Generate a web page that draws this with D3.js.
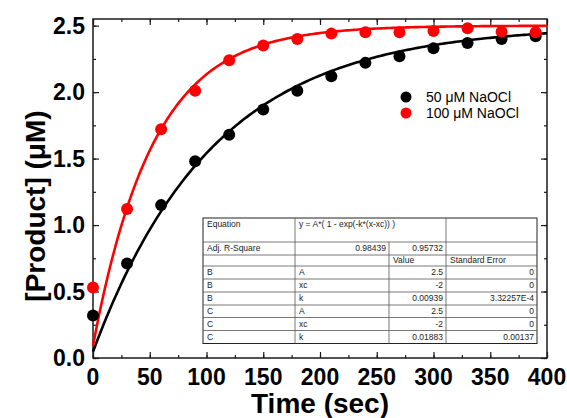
<!DOCTYPE html>
<html>
<head>
<meta charset="utf-8">
<script src="https://cdn.jsdelivr.net/npm/d3@7"></script>
<style>
  html, body { margin: 0; padding: 0; background: #fff; }
  svg { display: block; }
</style>
</head>
<body>
<svg id="chart" width="567" height="418"></svg>
<script>
// Sampling times (sec)
const times = [0, 30, 60, 90, 120, 150, 180, 210, 240, 270, 300, 330, 360, 390];
// Product concentration (µM) for each NaOCl dose
const product50 = [0.32, 0.71, 1.15, 1.48, 1.68, 1.87, 2.01, 2.12, 2.22, 2.27, 2.33, 2.37, 2.40, 2.42];
const product100 = [0.53, 1.12, 1.72, 2.01, 2.24, 2.35, 2.40, 2.44, 2.45, 2.45, 2.46, 2.48, 2.455, 2.45];
const seriesNames = ["50 \u03bcM NaOCl", "100 \u03bcM NaOCl"];
const seriesColors = ["#000000", "#ff0000"];

// Exponential rise fits y = A*(1 - exp(-k*(x-xc))) for datasets B and C
const fitIds = ["B", "C"];
const fitA = [2.5, 2.5];
const fitXc = [-2, -2];
const fitK = [0.00939, 0.01883];
const fitKErr = ["3.32257E-4", "0.00137"];
const adjR2 = ["0.98439", "0.95732"];
const equationText = "y = A*( 1 - exp(-k*(x-xc)) )";

const xTicks = [0, 50, 100, 150, 200, 250, 300, 350, 400];
const yTicks = [0.0, 0.5, 1.0, 1.5, 2.0, 2.5];

const W = 567, H = 418;
const margin = { left: 93, right: 20, top: 19, bottom: 60 };
const svg = d3.select("#chart");

const x = d3.scaleLinear().domain([0, 400]).range([margin.left, W - margin.right]);
const y = d3.scaleLinear().domain([0, 2.55]).range([H - margin.bottom, margin.top]);

const axisColor = "#1a1a1a";
const boldFont = "'Liberation Sans', Arial, sans-serif";

// Frame axes: ticks pointing inward on all four sides
function styleAxis(g) {
  g.select(".domain").remove();
  g.selectAll("line").attr("stroke", axisColor).attr("stroke-width", 1.2);
}
const xMinor = d3.range(0, 401, 25);
const yMinor = d3.range(0, 2.51, 0.25);

// bottom
svg.append("g").attr("transform", `translate(0,${y(0)})`)
  .call(d3.axisTop(x).tickValues(xMinor).tickSize(3).tickFormat(""))
  .call(styleAxis);
svg.append("g").attr("transform", `translate(0,${y(0)})`)
  .call(d3.axisTop(x).tickValues(xTicks).tickSize(6).tickFormat(""))
  .call(styleAxis);
// top
svg.append("g").attr("transform", `translate(0,${margin.top})`)
  .call(d3.axisBottom(x).tickValues(xMinor).tickSize(3).tickFormat(""))
  .call(styleAxis);
svg.append("g").attr("transform", `translate(0,${margin.top})`)
  .call(d3.axisBottom(x).tickValues(xTicks).tickSize(6).tickFormat(""))
  .call(styleAxis);
// left
svg.append("g").attr("transform", `translate(${x(0)},0)`)
  .call(d3.axisRight(y).tickValues(yMinor).tickSize(3).tickFormat(""))
  .call(styleAxis);
svg.append("g").attr("transform", `translate(${x(0)},0)`)
  .call(d3.axisRight(y).tickValues(yTicks).tickSize(6).tickFormat(""))
  .call(styleAxis);
// right
svg.append("g").attr("transform", `translate(${x(400)},0)`)
  .call(d3.axisLeft(y).tickValues(yMinor).tickSize(3).tickFormat(""))
  .call(styleAxis);
svg.append("g").attr("transform", `translate(${x(400)},0)`)
  .call(d3.axisLeft(y).tickValues(yTicks).tickSize(6).tickFormat(""))
  .call(styleAxis);

// frame
svg.append("rect")
  .attr("x", x(0)).attr("y", margin.top)
  .attr("width", x(400) - x(0)).attr("height", y(0) - margin.top)
  .attr("fill", "none").attr("stroke", axisColor).attr("stroke-width", 1.5);

// tick labels
svg.append("g").selectAll("text").data(xTicks).join("text")
  .attr("x", d => x(d)).attr("y", 385)
  .attr("text-anchor", "middle")
  .attr("font-family", boldFont).attr("font-weight", "bold").attr("font-size", 23)
  .attr("fill", "#000")
  .text(d => d3.format("d")(d));
svg.append("g").selectAll("text").data(yTicks).join("text")
  .attr("x", x(0) - 8).attr("y", d => y(d)).attr("dy", "0.36em")
  .attr("text-anchor", "end")
  .attr("font-family", boldFont).attr("font-weight", "bold").attr("font-size", 23)
  .attr("fill", "#000")
  .text(d => d3.format(".1f")(d));

// axis titles
svg.append("text")
  .attr("x", (x(0) + x(400)) / 2).attr("y", 413)
  .attr("text-anchor", "middle")
  .attr("font-family", boldFont).attr("font-weight", "bold").attr("font-size", 28)
  .text("Time (sec)");
svg.append("text")
  .attr("transform", "translate(45,206) rotate(-90)")
  .attr("text-anchor", "middle")
  .attr("font-family", boldFont).attr("font-weight", "bold").attr("font-size", 28)
  .text("[Product] (\u03bcM)");

// fitted curves from the fit parameters
const curveX = d3.range(0, 400.01, 2);
const line = d3.line().x(d => x(d[0])).y(d => y(d[1]));
fitIds.forEach((id, i) => {
  const pts = curveX.map(t => [t, fitA[i] * (1 - Math.exp(-fitK[i] * (t - fitXc[i])))]);
  svg.append("path").datum(pts)
    .attr("d", line)
    .attr("fill", "none")
    .attr("stroke", seriesColors[i])
    .attr("stroke-width", 2.6);
});

// data points
[product50, product100].forEach((vals, i) => {
  svg.append("g").selectAll("circle").data(vals).join("circle")
    .attr("cx", (d, j) => x(times[j]))
    .attr("cy", d => y(d))
    .attr("r", 6)
    .attr("fill", seriesColors[i]);
});

// legend
const legend = svg.append("g");
seriesNames.forEach((name, i) => {
  const ly = 97 + i * 16;
  legend.append("circle").attr("cx", 406).attr("cy", ly).attr("r", 5.5).attr("fill", seriesColors[i]);
  legend.append("text").attr("x", 426).attr("y", ly).attr("dy", "0.36em")
    .attr("font-family", "'Liberation Sans', Arial, sans-serif").attr("font-size", 14)
    .attr("fill", "#000")
    .text(name);
});

// fit results table
const colEdges = [203, 295, 389, 446, 537];
const rowEdges = [218, 242, 255, 266, 279, 292, 305, 317.5, 330.5, 343.5];
const tableRows = [];
fitIds.forEach((id, i) => {
  tableRows.push([id, "A", String(fitA[i]), "0"]);
  tableRows.push([id, "xc", String(fitXc[i]), "0"]);
  tableRows.push([id, "k", String(fitK[i]), fitKErr[i]]);
});

const tbl = svg.append("g")
  .attr("font-family", "'Liberation Sans', Arial, sans-serif")
  .attr("font-size", 8.5)
  .attr("fill", "#222");
const gridColor = "#555";
tbl.append("rect")
  .attr("x", colEdges[0]).attr("y", rowEdges[0])
  .attr("width", colEdges[4] - colEdges[0]).attr("height", rowEdges[rowEdges.length - 1] - rowEdges[0])
  .attr("fill", "#fff").attr("stroke", "#222").attr("stroke-width", 1);
// horizontal rules
rowEdges.slice(1, -1).forEach(ry => {
  tbl.append("line").attr("x1", colEdges[0]).attr("x2", colEdges[4])
    .attr("y1", ry).attr("y2", ry).attr("stroke", gridColor).attr("stroke-width", 0.8);
});
// vertical rules (equation row spans the two middle columns)
colEdges.slice(1, -1).forEach((cx, ci) => {
  const top = ci === 1 ? rowEdges[1] : rowEdges[0];
  tbl.append("line").attr("x1", cx).attr("x2", cx)
    .attr("y1", top).attr("y2", rowEdges[rowEdges.length - 1])
    .attr("stroke", gridColor).attr("stroke-width", 0.8);
});

function cell(ci, ri, txt, align, baseline) {
  const left = align === "end";
  tbl.append("text")
    .attr("x", left ? colEdges[ci + 1] - 3 : colEdges[ci] + 4)
    .attr("y", baseline !== undefined ? baseline : (rowEdges[ri] + rowEdges[ri + 1]) / 2 + 2.5)
    .attr("text-anchor", align)
    .text(txt);
}
cell(0, 0, "Equation", "start", rowEdges[0] + 9);
cell(1, 0, equationText, "start", rowEdges[0] + 9);
cell(0, 1, "Adj. R-Square", "start");
cell(1, 1, adjR2[0], "end");
cell(2, 1, adjR2[1], "end");
cell(2, 2, "Value", "start");
cell(3, 2, "Standard Error", "start");
tableRows.forEach((r, k) => {
  cell(0, 3 + k, r[0], "start");
  cell(1, 3 + k, r[1], "start");
  cell(2, 3 + k, r[2], "end");
  cell(3, 3 + k, r[3], "end");
});
</script>
</body>
</html>
